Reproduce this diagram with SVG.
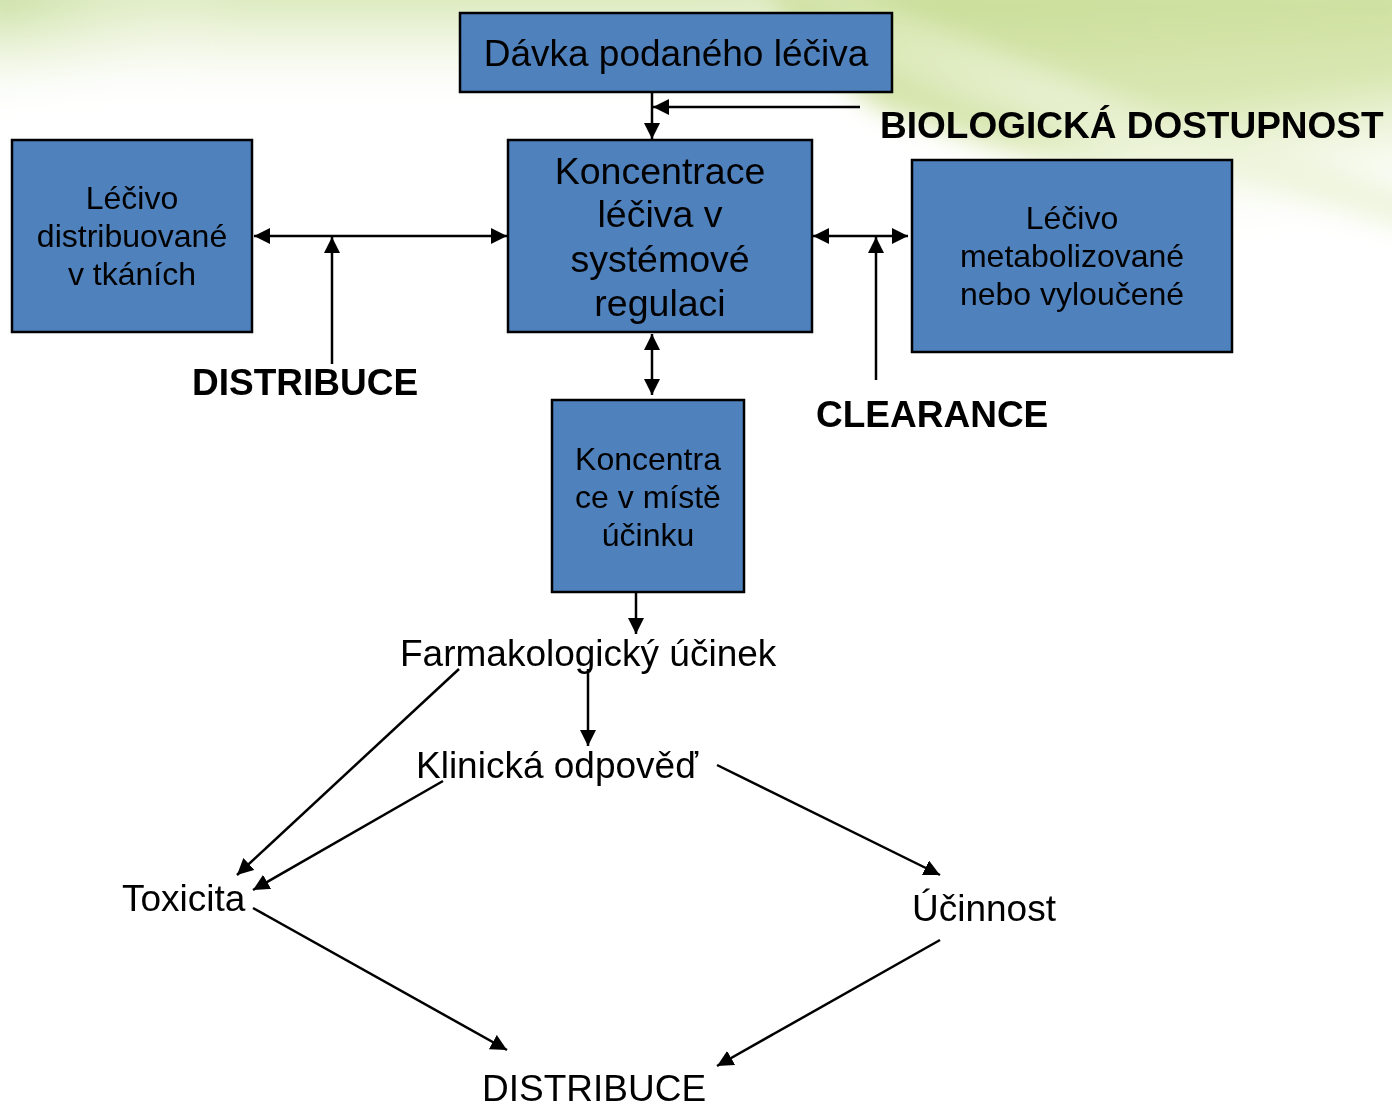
<svg xmlns="http://www.w3.org/2000/svg" width="1392" height="1110" viewBox="0 0 1392 1110">
  <style>
    .box { fill: #4F81BD; stroke: #000; stroke-width: 2.5; }
    .bt { font-family: "Liberation Sans", Arial, sans-serif; font-size: 32px; fill: #000; text-anchor: middle; }
    .btl { font-family: "Liberation Sans", Arial, sans-serif; font-size: 37.5px; fill: #000; text-anchor: middle; }
    .lbl { font-family: "Liberation Sans", Arial, sans-serif; font-size: 37px; font-weight: bold; fill: #000; }
    .txt { font-family: "Liberation Sans", Arial, sans-serif; font-size: 37px; fill: #000; }
    .ln { stroke: #000; stroke-width: 2.5; fill: none; }
  </style>
  <defs>
    <marker id="ah" viewBox="0 0 10 10" refX="10" refY="5" markerWidth="6.5" markerHeight="6.5" markerUnits="strokeWidth" orient="auto-start-reverse">
      <path d="M0,0 L10,5 L0,10 z" fill="#000"/>
    </marker>
    <filter id="soft" x="-10%" y="-50%" width="120%" height="200%">
      <feGaussianBlur stdDeviation="12"/>
    </filter>
    <linearGradient id="gTop" x1="0" y1="0" x2="0" y2="1">
      <stop offset="0" stop-color="#cfe2a6" stop-opacity="0.95"/>
      <stop offset="0.45" stop-color="#e4eecb" stop-opacity="0.6"/>
      <stop offset="1" stop-color="#ffffff" stop-opacity="0"/>
    </linearGradient>
    <radialGradient id="gLeft" cx="0" cy="0" r="1" gradientUnits="objectBoundingBox">
      <stop offset="0" stop-color="#bcd98a" stop-opacity="0.8"/>
      <stop offset="1" stop-color="#ffffff" stop-opacity="0"/>
    </radialGradient>
    <linearGradient id="gRight" x1="0" y1="0" x2="0.3" y2="1">
      <stop offset="0" stop-color="#c4da8c"/>
      <stop offset="0.55" stop-color="#d3e4a6"/>
      <stop offset="1" stop-color="#ffffff" stop-opacity="0"/>
    </linearGradient>
    <linearGradient id="gBand" x1="0" y1="0" x2="1" y2="0">
      <stop offset="0" stop-color="#f4f8e8" stop-opacity="0"/>
      <stop offset="0.5" stop-color="#f0f6e0" stop-opacity="0.9"/>
      <stop offset="1" stop-color="#e6f0cc" stop-opacity="0.9"/>
    </linearGradient>
  </defs>

  <!-- backdrop with green swooshes along the top -->
  <rect x="0" y="0" width="1392" height="1110" fill="#ffffff"/>
  <g filter="url(#soft)">
    <rect x="-20" y="-20" width="1432" height="130" fill="url(#gTop)"/>
    <rect x="-20" y="-20" width="260" height="140" fill="url(#gLeft)"/>
    <path d="M760,-20 L1420,-20 L1420,290 C1300,250 1150,200 1000,150 L880,110 C820,70 790,30 760,-20 Z" fill="url(#gRight)" opacity="0.85"/>
    <path d="M700,-20 L830,-20 C1000,60 1200,130 1420,195 L1420,235 C1200,170 1000,110 860,60 Z" fill="url(#gBand)" opacity="0.7"/>
  </g>

  <!-- connectors -->
  <g id="connectors">
    <line class="ln" x1="652" y1="93" x2="652" y2="139" marker-end="url(#ah)"/>
    <line class="ln" x1="860" y1="107" x2="653" y2="107" marker-end="url(#ah)"/>
    <line class="ln" x1="254" y1="236" x2="507" y2="236" marker-start="url(#ah)" marker-end="url(#ah)"/>
    <line class="ln" x1="332" y1="364" x2="332" y2="237" marker-end="url(#ah)"/>
    <line class="ln" x1="813" y1="236" x2="908" y2="236" marker-start="url(#ah)" marker-end="url(#ah)"/>
    <line class="ln" x1="876" y1="380" x2="876" y2="237" marker-end="url(#ah)"/>
    <line class="ln" x1="652" y1="334" x2="652" y2="395" marker-start="url(#ah)" marker-end="url(#ah)"/>
    <line class="ln" x1="636" y1="592" x2="636" y2="634" marker-end="url(#ah)"/>
    <line class="ln" x1="588" y1="669" x2="588" y2="746" marker-end="url(#ah)"/>
    <line class="ln" x1="459" y1="669" x2="237" y2="875" marker-end="url(#ah)"/>
    <line class="ln" x1="443" y1="781" x2="253" y2="890" marker-end="url(#ah)"/>
    <line class="ln" x1="717" y1="765" x2="940" y2="875" marker-end="url(#ah)"/>
    <line class="ln" x1="253" y1="908" x2="507" y2="1050" marker-end="url(#ah)"/>
    <line class="ln" x1="940" y1="940" x2="717" y2="1066" marker-end="url(#ah)"/>
  </g>

  <!-- boxes -->
  <g id="davka">
    <rect class="box" x="460" y="13" width="432" height="79"/>
    <text class="btl" x="676" y="66" style="font-size:37px">Dávka podaného léčiva</text>
  </g>
  <g id="koncentrace">
    <rect class="box" x="508" y="140" width="304" height="192"/>
    <text class="btl" x="660" y="184">Koncentrace</text>
    <text class="btl" x="660" y="227">léčiva v</text>
    <text class="btl" x="660" y="272">systémové</text>
    <text class="btl" x="660" y="316">regulaci</text>
  </g>
  <g id="distribuovane">
    <rect class="box" x="12" y="140" width="240" height="192"/>
    <text class="bt" x="132" y="209">Léčivo</text>
    <text class="bt" x="132" y="247">distribuované</text>
    <text class="bt" x="132" y="285">v tkáních</text>
  </g>
  <g id="metabolizovane">
    <rect class="box" x="912" y="160" width="320" height="192"/>
    <text class="bt" x="1072" y="229">Léčivo</text>
    <text class="bt" x="1072" y="267">metabolizované</text>
    <text class="bt" x="1072" y="305">nebo vyloučené</text>
  </g>
  <g id="misto-ucinku">
    <rect class="box" x="552" y="400" width="192" height="192"/>
    <text class="bt" x="648" y="470">Koncentra</text>
    <text class="bt" x="648" y="508">ce v místě</text>
    <text class="bt" x="648" y="546">účinku</text>
  </g>

  <!-- bold process labels -->
  <g id="lbl-biodostupnost"><text class="lbl" x="880" y="138">BIOLOGICKÁ DOSTUPNOST</text></g>
  <g id="lbl-distribuce"><text class="lbl" x="192" y="395">DISTRIBUCE</text></g>
  <g id="lbl-clearance"><text class="lbl" x="816" y="427">CLEARANCE</text></g>

  <!-- plain text nodes -->
  <g id="farmakologicky"><text class="txt" x="400" y="666">Farmakologický účinek</text></g>
  <g id="klinicka"><text class="txt" x="416" y="778">Klinická odpověď</text></g>
  <g id="toxicita"><text class="txt" x="122" y="911">Toxicita</text></g>
  <g id="ucinnost"><text class="txt" x="912" y="921">Účinnost</text></g>
  <g id="distribuce-dole"><text class="txt" x="482" y="1101">DISTRIBUCE</text></g>
</svg>
